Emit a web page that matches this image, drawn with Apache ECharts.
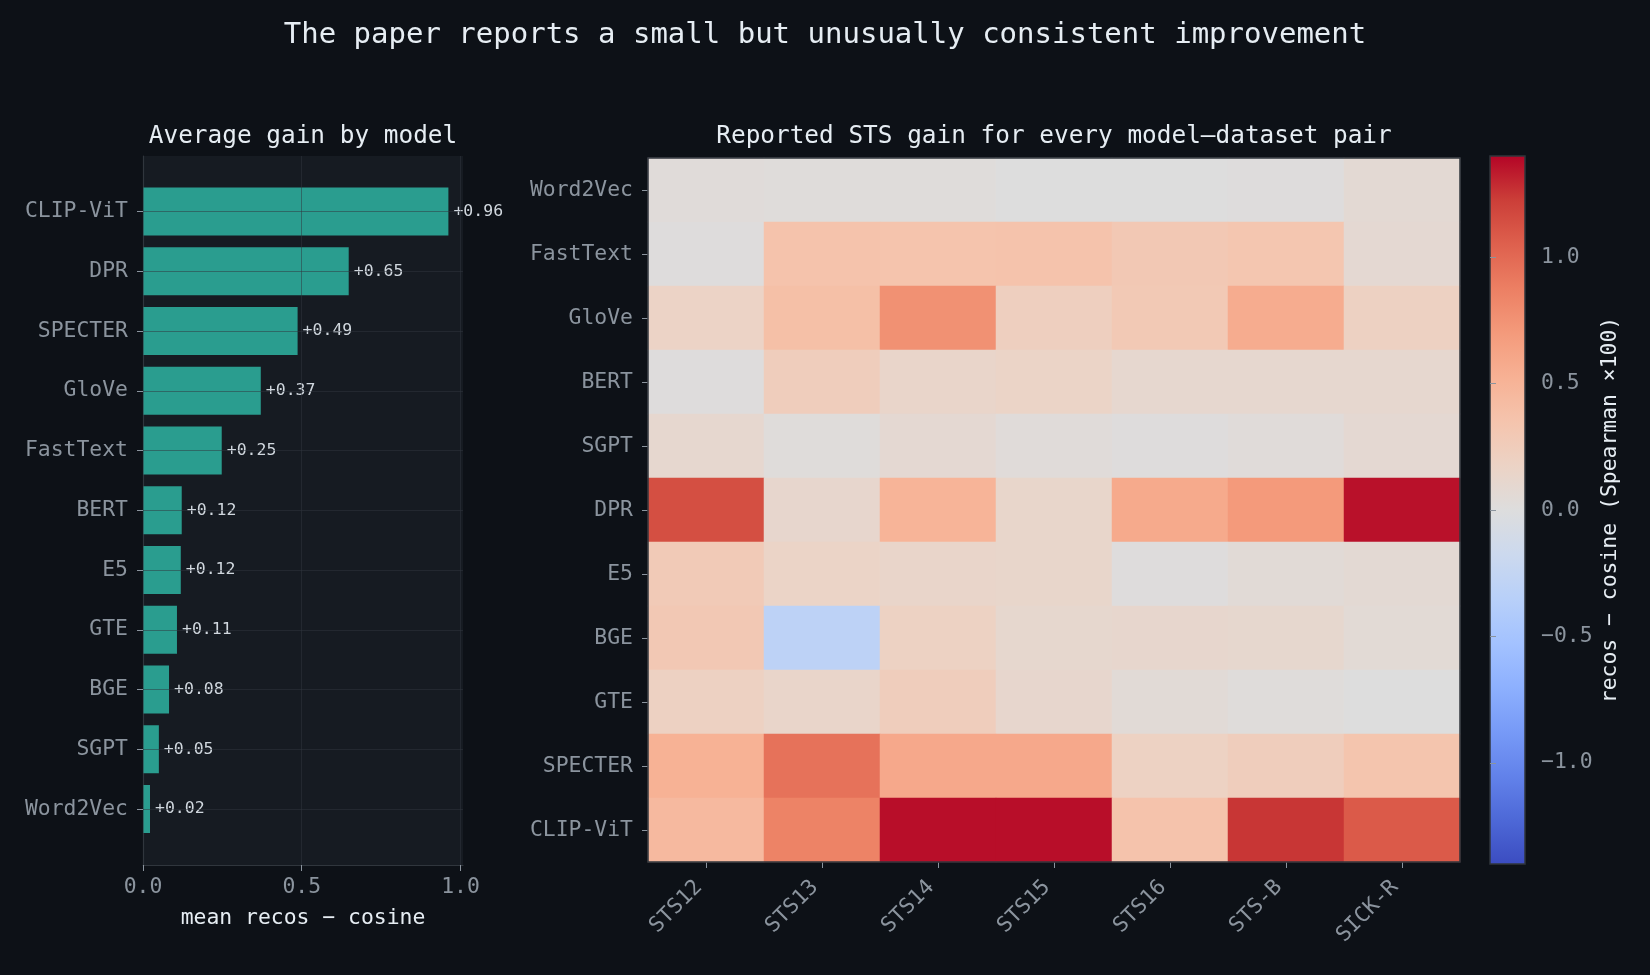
<!DOCTYPE html>
<html>
<head>
<meta charset="utf-8">
<title>recos vs cosine gain</title>
<script src="https://cdn.jsdelivr.net/npm/echarts@6/dist/echarts.min.js"></script>
<style>
html, body { margin: 0; padding: 0; background: #0d1117; }
#main { width: 1650px; height: 975px; }
</style>
</head>
<body>
<div id="main"></div>
<script>
// heatmap rows, top to bottom
var models = ['Word2Vec', 'FastText', 'GloVe', 'BERT', 'SGPT', 'DPR', 'E5', 'BGE', 'GTE', 'SPECTER', 'CLIP-ViT'];
var datasets = ['STS12', 'STS13', 'STS14', 'STS15', 'STS16', 'STS-B', 'SICK-R'];
var gainRows = [
    [0.03, 0.02, 0.02, 0.00, 0.00, 0.01, 0.07],
    [0.01, 0.36, 0.35, 0.36, 0.30, 0.33, 0.08],
    [0.17, 0.39, 0.76, 0.22, 0.29, 0.56, 0.20],
    [0.01, 0.24, 0.14, 0.16, 0.10, 0.10, 0.10],
    [0.10, 0.02, 0.08, 0.03, 0.01, 0.03, 0.08],
    [1.14, 0.12, 0.50, 0.13, 0.58, 0.70, 1.36],
    [0.28, 0.16, 0.14, 0.13, 0.01, 0.05, 0.07],
    [0.30, -0.31, 0.19, 0.11, 0.12, 0.11, 0.06],
    [0.20, 0.14, 0.24, 0.12, 0.05, 0.02, 0.00],
    [0.52, 0.95, 0.59, 0.59, 0.19, 0.24, 0.34],
    [0.45, 0.85, 1.37, 1.37, 0.36, 1.25, 1.08]
];

// bar chart, sorted top to bottom
var barModels = ['CLIP-ViT', 'DPR', 'SPECTER', 'GloVe', 'FastText', 'BERT', 'E5', 'GTE', 'BGE', 'SGPT', 'Word2Vec'];
var barGain = [0.962, 0.648, 0.487, 0.371, 0.248, 0.122, 0.119, 0.107, 0.082, 0.050, 0.022];

var barTicks = [0, 0.5, 1.0];
var cbarTicks = [-1.0, -0.5, 0.0, 0.5, 1.0];

// matplotlib coolwarm, low -> high
var coolwarm = ['#3b4cc0', '#4d68d7', '#6282ea', '#779af7', '#8db0fe', '#a3c2ff', '#b8d0f9', '#ccd9ee',
    '#dddddd', '#ecd3c5', '#f5c4ad', '#f7b194', '#f49a7b', '#ec7f63', '#de604d', '#cb3e38', '#b40426'];

var monoFont = '"DejaVu Sans Mono", monospace';
var tickColor = '#8b949e';
var lightText = '#e6edf3';
var spineColor = '#30363d';
var gridLine = 'rgba(48,54,61,0.5)';

function heatData() {
    var data = [];
    for (var r = 0; r < models.length; r++) {
        for (var c = 0; c < datasets.length; c++) {
            data.push([c, r, gainRows[r][c]]);
        }
    }
    return data;
}

function minusFormatter(v) {
    return (v < 0 ? '\u2212' : '') + Math.abs(v).toFixed(1);
}

function cbarGradient() {
    var stops = [];
    for (var i = 0; i < coolwarm.length; i++) {
        stops.push({offset: i / (coolwarm.length - 1), color: coolwarm[coolwarm.length - 1 - i]});
    }
    return new echarts.graphic.LinearGradient(0, 0, 0, 1, stops);
}

function titleText(x, y, text, size) {
    return {
        type: 'text', x: x, y: y, silent: true,
        style: {
            text: text, fill: lightText, font: size + 'px ' + monoFont,
            textAlign: 'center', textVerticalAlign: 'middle'
        }
    };
}

var option = {
    backgroundColor: '#0d1117',
    animation: false,
    textStyle: {fontFamily: monoFont},
    graphic: [
        titleText(825, 35, 'The paper reports a small but unusually consistent improvement', 29),
        titleText(303, 137, 'Average gain by model', 24.4),
        titleText(1054, 137, 'Reported STS gain for every model\u2013dataset pair', 24.4)
    ],
    grid: [
        // bar plot background + x axis
        {left: 143, width: 320, top: 156, height: 709, show: true, backgroundColor: '#161b22', borderWidth: 0},
        // bar series
        {left: 143, width: 320, top: 211.5, height: 597.5},
        // heatmap, whole-pixel cells so no seams show
        {left: 648, width: 812, top: 158, height: 704, show: true, borderColor: spineColor, borderWidth: 1.5, z: 5},
        // colorbar
        {left: 1490, width: 35, top: 156, height: 708, show: true, backgroundColor: cbarGradient(),
            borderColor: spineColor, borderWidth: 1.5}
    ],
    xAxis: [
        {
            type: 'value', gridIndex: 0, min: 0, max: 1.008, z: 5,
            axisLine: {show: true, lineStyle: {color: spineColor, width: 1.2}},
            axisTick: {show: true, customValues: barTicks, length: 6, lineStyle: {color: tickColor}},
            axisLabel: {customValues: barTicks, formatter: function (v) { return v.toFixed(1); },
                color: tickColor, fontSize: 21.4, margin: 12, fontFamily: monoFont},
            splitLine: {show: true, lineStyle: {color: gridLine, width: 1}},
            name: 'mean recos \u2212 cosine', nameLocation: 'middle', nameGap: 43,
            nameTextStyle: {color: lightText, fontSize: 21.4, fontFamily: monoFont}
        },
        {type: 'value', gridIndex: 1, min: 0, max: 1.008, show: false},
        {
            type: 'category', gridIndex: 2, data: datasets,
            axisLine: {show: false},
            axisTick: {show: true, alignWithLabel: true, length: 6, lineStyle: {color: tickColor}},
            axisLabel: {interval: 0, rotate: 45, margin: 15, padding: [0, 10, 0, 0],
                color: tickColor, fontSize: 21.4, fontFamily: monoFont},
            splitLine: {show: false}
        },
        {type: 'value', gridIndex: 3, show: false}
    ],
    yAxis: [
        {
            type: 'value', gridIndex: 0, min: 0, max: 1,
            axisLine: {show: true, lineStyle: {color: spineColor, width: 1.2}},
            axisTick: {show: false}, axisLabel: {show: false}, splitLine: {show: false}
        },
        {
            type: 'category', gridIndex: 1, data: barModels, inverse: true, boundaryGap: false, z: 5,
            axisLine: {show: false},
            axisTick: {show: true, interval: 0, length: 6, lineStyle: {color: tickColor}},
            axisLabel: {interval: 0, margin: 15, color: tickColor, fontSize: 21.4, fontFamily: monoFont},
            splitLine: {show: true, interval: 0, lineStyle: {color: gridLine, width: 1}}
        },
        {
            type: 'category', gridIndex: 2, data: models, inverse: true,
            axisLine: {show: false},
            axisTick: {show: true, alignWithLabel: true, length: 6, lineStyle: {color: tickColor}},
            axisLabel: {interval: 0, margin: 15, color: tickColor, fontSize: 21.4, fontFamily: monoFont},
            splitLine: {show: false}
        },
        {
            type: 'value', gridIndex: 3, min: -1.4, max: 1.4, position: 'right',
            axisLine: {show: false},
            axisTick: {show: true, customValues: cbarTicks, length: 6, lineStyle: {color: tickColor}},
            axisLabel: {customValues: cbarTicks, formatter: minusFormatter, margin: 16,
                color: tickColor, fontSize: 21.4, fontFamily: monoFont},
            splitLine: {show: false},
            name: 'recos \u2212 cosine (Spearman \u00d7100)', nameLocation: 'middle', nameRotate: 90, nameGap: 75,
            nameTextStyle: {color: lightText, fontSize: 21.4, fontFamily: monoFont}
        }
    ],
    visualMap: {
        type: 'continuous', show: false, seriesIndex: 1, dimension: 2,
        min: -1.4, max: 1.4, inRange: {color: coolwarm}
    },
    series: [
        {
            type: 'bar', xAxisIndex: 1, yAxisIndex: 1, data: barGain,
            barWidth: 48, clip: false,
            itemStyle: {color: '#2a9d8f'},
            label: {
                show: true, position: 'right', distance: 5,
                formatter: function (p) { return '+' + p.value.toFixed(2); },
                color: '#d0d7de', fontSize: 16.5, fontFamily: monoFont
            },
            emphasis: {disabled: true}
        },
        {
            type: 'heatmap', xAxisIndex: 2, yAxisIndex: 2, data: heatData(),
            itemStyle: {borderWidth: 0},
            emphasis: {disabled: true}
        }
    ]
};

var chart = echarts.init(document.getElementById('main'));
chart.setOption(option);
</script>
</body>
</html>
